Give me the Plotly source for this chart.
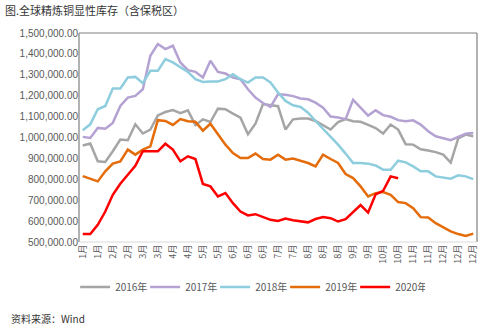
import plotly.graph_objects as go

tick_labels = ["1月", "1月", "2月", "2月", "3月", "3月", "4月", "4月", "5月", "5月",
               "6月", "6月", "6月", "7月", "7月", "8月", "8月", "8月", "9月", "9月",
               "10月", "10月", "11月", "11月", "12月", "12月", "12月"]

s2016 = [962, 971, 886, 883, 934, 990, 987, 1063, 1019, 1038, 1106, 1122, 1131, 1116, 1130,
         1059, 1087, 1074, 1138, 1135, 1114, 1095, 1016, 1066, 1160, 1155, 1150, 1038, 1087,
         1091, 1091, 1079, 1059, 1038, 1074, 1088, 1078, 1075, 1060, 1045, 1019, 1062, 1038,
         968, 966, 944, 938, 930, 918, 880, 996, 1014, 1006]
s2017 = [1003, 998, 1046, 1042, 1070, 1151, 1191, 1199, 1231, 1391, 1447, 1423, 1439, 1359,
         1322, 1314, 1287, 1367, 1314, 1306, 1287, 1279, 1231, 1191, 1165, 1147, 1207, 1205,
         1198, 1187, 1183, 1167, 1143, 1100, 1096, 1088, 1180, 1143, 1105, 1130, 1107, 1099,
         1083, 1078, 1082, 1062, 1030, 1006, 998, 987, 1003, 1018, 1022]
s2018 = [1035, 1063, 1135, 1151, 1234, 1234, 1287, 1290, 1260, 1319, 1319, 1375, 1359, 1337,
         1314, 1279, 1266, 1268, 1268, 1279, 1303, 1279, 1263, 1287, 1287, 1263, 1215, 1175,
         1154, 1146, 1119, 1079, 1042, 1003, 966, 923, 878, 878, 875, 866, 846, 846, 889, 881,
         862, 838, 838, 814, 809, 803, 819, 814, 801]
s2019 = [815, 801, 790, 838, 875, 886, 942, 918, 942, 958, 1083, 1079, 1060, 1088, 1078, 1075,
         1033, 1066, 1014, 966, 926, 902, 902, 923, 897, 894, 918, 894, 899, 889, 878, 862, 918,
         897, 878, 825, 806, 766, 718, 734, 739, 726, 691, 686, 662, 619, 617, 590, 569, 551,
         538, 529, 540]
s2020 = [538, 538, 582, 646, 726, 779, 822, 865, 934, 934, 934, 970, 942, 886, 910, 897, 778,
         766, 718, 734, 686, 646, 627, 633, 619, 606, 601, 612, 604, 599, 594, 610, 619, 614,
         598, 609, 644, 677, 641, 728, 745, 814, 805]

series_names = ["2016年", "2017年", "2018年", "2019年", "2020年"]
series_data = [s2016, s2017, s2018, s2019, s2020]
colors = ["#A5A5A5", "#B4A2D2", "#8DCDDD", "#E46C0A", "#FF0000"]

fig = go.Figure()
for name, data, c in zip(series_names, series_data, colors):
    fig.add_trace(go.Scatter(
        x=list(range(len(data))), y=[v * 1000 for v in data], name=name,
        mode="lines", line=dict(color=c, width=2.5), hoverinfo="skip"))

n_weeks = len(s2016)
fig.update_layout(
    width=487, height=327,
    margin=dict(l=79, r=8, t=33, b=85),
    paper_bgcolor="white", plot_bgcolor="white",
    font=dict(family="Noto Sans CJK SC, Noto Sans, sans-serif", color="#595959"),
    xaxis=dict(
        range=[-0.5, n_weeks - 0.5],
        tickmode="array", tickvals=list(range(0, n_weeks, 2)), ticktext=tick_labels,
        tickangle=-90, tickfont=dict(size=9, color="#595959"),
        showgrid=False, zeroline=False, showline=False, ticks="",
    ),
    yaxis=dict(
        range=[500000, 1500000], dtick=100000, tickformat=",.2f",
        tickfont=dict(size=10, color="#595959", family="Liberation Sans, Arial, sans-serif"),
        showgrid=False, zeroline=False, showline=False, ticks="",
    ),
    legend=dict(orientation="h", x=0.43, xanchor="center", y=-0.215, yanchor="middle",
                font=dict(size=10, color="#595959"), itemwidth=30,
                entrywidth=25, entrywidthmode="pixels", tracegroupgap=0),
    showlegend=True,
)

# plot frame
fig.add_shape(type="line", xref="paper", yref="paper", x0=0, x1=0, y0=0, y1=1,
              line=dict(color="#7F7F7F", width=1.2))
fig.add_shape(type="line", xref="paper", yref="paper", x0=0, x1=1, y0=1, y1=1,
              line=dict(color="#7F7F7F", width=1.2))
fig.add_shape(type="line", xref="paper", yref="paper", x0=1, x1=1, y0=0, y1=1,
              line=dict(color="#7F7F7F", width=1.2))
fig.add_shape(type="line", xref="paper", yref="paper", x0=0, x1=1, y0=0, y1=0,
              line=dict(color="#D9D9D9", width=1.2))

fig.add_annotation(text="图.全球精炼铜显性库存（含保税区）", xref="paper", yref="paper",
                   x=-0.19, y=1.11, xanchor="left", yanchor="middle", showarrow=False,
                   font=dict(size=11, color="#333333"))
fig.add_annotation(text="资料来源：Wind", xref="paper", yref="paper",
                   x=-0.177, y=-0.364, xanchor="left", yanchor="middle", showarrow=False,
                   font=dict(size=10, color="#333333"))

fig.write_html("out.html")
